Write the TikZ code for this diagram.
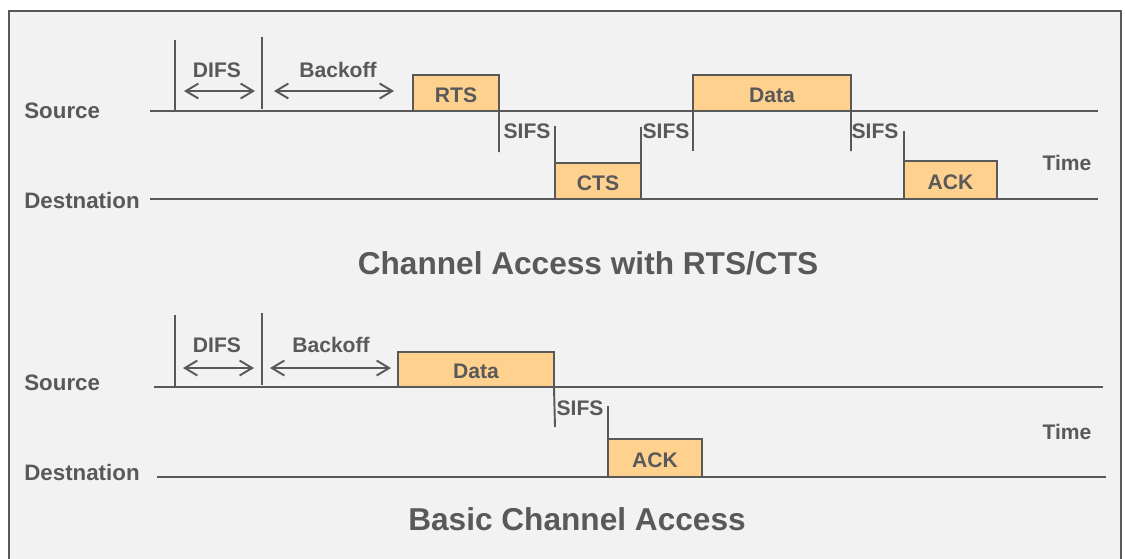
\documentclass[tikz,border=0pt]{standalone}
\usepackage{fontspec}
\setmainfont{Liberation Sans}
\usetikzlibrary{arrows.meta, positioning}
\definecolor{ink}{HTML}{595959}
\definecolor{slotfill}{HTML}{FFD18F}
\definecolor{paper}{HTML}{F2F2F2}
\tikzstyle{slot} = [rectangle, anchor=south west, inner sep=0pt, outer sep=0pt, draw=ink,
	fill=slotfill, line width=1.1pt, text=ink, text height=10.6pt, text depth=0pt,
	font=\bfseries\fontsize{12}{14}\selectfont]
\tikzstyle{txt} = [inner sep=0pt, text=ink, font=\bfseries\fontsize{12}{14}\selectfont]
\tikzstyle{lane} = [inner sep=0pt, anchor=west, text=ink, font=\bfseries\fontsize{12.7}{15}\selectfont]
\tikzstyle{headline} = [inner sep=0pt, text=ink, font=\bfseries\fontsize{18}{21}\selectfont]
\tikzstyle{timeline} = [draw=ink, line width=1.1pt]
\tikzstyle{span} = [<->, >={Straight Barb[length=2.5mm, width=3mm]}, draw=ink, line width=1.1pt]

\begin{document}
\begin{tikzpicture}[x=0.02cm, y=-0.02cm]
	% set up frame
	\useasboundingbox (0,0) rectangle (1125,558);
	\fill[white] (0,0) rectangle (1125,558);
	\draw[ink, fill=paper, line width=1.1pt] (9,11) rectangle (1121,620);

	% set up timelines (RTS/CTS)
	\node (src-a) [lane] at (24,111) {Source};
	\node (dst-a) [lane] at (24,201) {Destnation};
	\coordinate (src-a-start) at (150,111);
	\coordinate (src-a-end) at (1098,111);
	\coordinate (dst-a-start) at (150,199);
	\coordinate (dst-a-end) at (1098,199);
	\draw[timeline] (src-a-start) -- (src-a-end);
	\draw[timeline] (dst-a-start) -- (dst-a-end);

	% set up frames (RTS/CTS)
	\node (rts) [slot, minimum width=1.72cm, minimum height=0.72cm] at (413,111) {RTS};
	\node (cts) [slot, minimum width=1.72cm, minimum height=0.72cm] at (555,199) {CTS};
	\node (data-a) [slot, minimum width=3.16cm, minimum height=0.72cm] at (693,111) {Data};
	\node (ack-a) [slot, minimum width=1.86cm, minimum height=0.76cm] at (904,199) {ACK};

	% set up gaps (RTS/CTS)
	\coordinate (difs-a-top) at (175,40);
	\coordinate (difs-a-bot) at (175,111);
	\coordinate (back-a-top) at (262,37);
	\coordinate (back-a-bot) at (262,109);
	\coordinate (sifs-a1) at (499,152);
	\coordinate (sifs-a2) at (555,126);
	\coordinate (sifs-a3) at (641,127);
	\coordinate (sifs-a4) at (693,151);
	\coordinate (sifs-a5) at (851,151);
	\coordinate (sifs-a6) at (904,131);
	\draw[timeline] (difs-a-top) -- (difs-a-bot);
	\draw[timeline] (back-a-top) -- (back-a-bot);
	\draw[timeline] (rts.south east) -- (sifs-a1);
	\draw[timeline] (sifs-a2) -- (cts.north west);
	\draw[timeline] (cts.north east) -- (sifs-a3);
	\draw[timeline] (data-a.south west) -- (sifs-a4);
	\draw[timeline] (data-a.south east) -- (sifs-a5);
	\draw[timeline] (sifs-a6) -- (ack-a.north west);

	\coordinate (difs-a-l) at (184,91);
	\coordinate (difs-a-r) at (255,91);
	\coordinate (back-a-l) at (274,91);
	\coordinate (back-a-r) at (394,91);
	\draw[span] (difs-a-l) -- (difs-a-r);
	\draw[span] (back-a-l) -- (back-a-r);

	\node (difs-a) [txt] at (217,70) {DIFS};
	\node (backoff-a) [txt] at (338,70) {Backoff};
	\node (sifs-a) [txt] at (527,131) {SIFS};
	\node (sifs-b) [txt] at (666,131) {SIFS};
	\node (sifs-c) [txt] at (875,131) {SIFS};
	\node (time-a) [txt] at (1067,163) {Time};
	\node (title-a) [headline] at (588,263) {Channel Access with RTS/CTS};

	% set up timelines (basic)
	\node (src-b) [lane] at (24,383) {Source};
	\node (dst-b) [lane] at (24,473) {Destnation};
	\coordinate (src-b-start) at (154,387);
	\coordinate (src-b-end) at (1103,387);
	\coordinate (dst-b-start) at (157,477);
	\coordinate (dst-b-end) at (1106,477);
	\draw[timeline] (src-b-start) -- (src-b-end);
	\draw[timeline] (dst-b-start) -- (dst-b-end);

	% set up frames (basic)
	\node (data-b) [slot, minimum width=3.12cm, minimum height=0.70cm] at (398,387) {Data};
	\node (ack-b) [slot, minimum width=1.88cm, minimum height=0.76cm] at (608,477) {ACK};

	% set up gaps (basic)
	\coordinate (difs-b-top) at (175,315);
	\coordinate (difs-b-bot) at (175,387);
	\coordinate (back-b-top) at (262,313);
	\coordinate (back-b-bot) at (262,385);
	\coordinate (sifs-b1) at (555,427);
	\coordinate (sifs-b2) at (608,406);
	\draw[timeline] (difs-b-top) -- (difs-b-bot);
	\draw[timeline] (back-b-top) -- (back-b-bot);
	\draw[timeline] (data-b.south east) -- (sifs-b1);
	\draw[timeline] (sifs-b2) -- (ack-b.north west);

	\coordinate (difs-b-l) at (183,368);
	\coordinate (difs-b-r) at (254,368);
	\coordinate (back-b-l) at (270,368);
	\coordinate (back-b-r) at (391,368);
	\draw[span] (difs-b-l) -- (difs-b-r);
	\draw[span] (back-b-l) -- (back-b-r);

	\node (difs-b) [txt] at (217,345) {DIFS};
	\node (backoff-b) [txt] at (331,345) {Backoff};
	\node (sifs-d) [txt] at (580,408) {SIFS};
	\node (time-b) [txt] at (1067,432) {Time};
	\node (title-b) [headline] at (577,519) {Basic Channel Access};
\end{tikzpicture}
\end{document}
